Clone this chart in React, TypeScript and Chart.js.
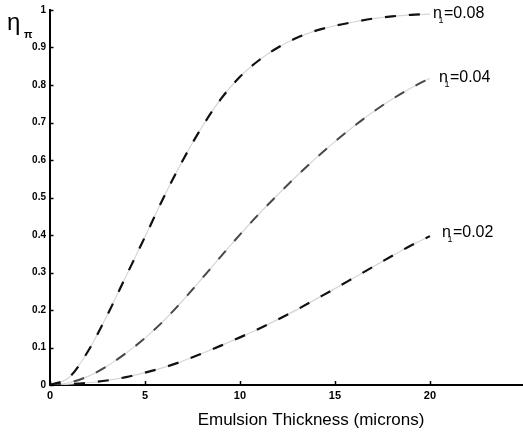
import React, { useEffect, useRef } from "react";
import { Chart, registerables } from "chart.js";

Chart.register(...registerables);

// Emulsion thickness in microns
const thickness = [0, 1, 2, 3, 4, 5, 6, 7, 8, 9, 10, 11, 12, 13, 14, 15, 16, 17, 18, 19, 20];

// Diffraction efficiency for each index modulation n1
const etaN008 = [0, 0.02, 0.09, 0.185, 0.29, 0.395, 0.502, 0.6, 0.688, 0.763, 0.822, 0.866, 0.9, 0.926, 0.945, 0.958, 0.968, 0.977, 0.983, 0.987, 0.989];
const etaN004 = [0, 0.006, 0.023, 0.05, 0.085, 0.125, 0.172, 0.226, 0.284, 0.343, 0.401, 0.456, 0.508, 0.558, 0.605, 0.649, 0.69, 0.728, 0.762, 0.792, 0.818];
const etaN002 = [0, 0.002, 0.006, 0.012, 0.021, 0.033, 0.047, 0.064, 0.084, 0.105, 0.127, 0.15, 0.175, 0.201, 0.229, 0.257, 0.286, 0.315, 0.344, 0.372, 0.397];

const curveValues = ["0.08", "0.04", "0.02"];
const xTicks = [0, 5, 10, 15, 20];
const yTicks = [0, 0.1, 0.2, 0.3, 0.4, 0.5, 0.6, 0.7, 0.8, 0.9, 1];
const xTitle = "Emulsion Thickness (microns)";
const yTitle = "η";
const yTitleSub = "π";

const FONT = "'Liberation Sans', Arial, Helvetica, sans-serif";

const toPoints = (ys: number[]) => thickness.map((x, i) => ({ x, y: ys[i] }));

const series = [
  { values: etaN008, color: "#111111", width: 2.2 },
  { values: etaN004, color: "#484848", width: 2 },
  { values: etaN002, color: "#111111", width: 2.2 },
];

// pixel nudges for each curve's end label, relative to the curve end
const labelNudge = [
  { dx: 3, dy: 4 },
  { dx: 9, dy: 4 },
  { dx: 12, dy: 1 },
];

const annotations = {
  id: "annotations",
  afterDraw(chart: any) {
    const { ctx, chartArea } = chart;
    const xs = chart.scales.x;
    const ys = chart.scales.y;
    ctx.save();

    // inward tick marks
    ctx.strokeStyle = "#000";
    ctx.lineWidth = 1.5;
    xTicks.forEach((v) => {
      const px = Math.round(xs.getPixelForValue(v)) + 0.5;
      ctx.beginPath();
      ctx.moveTo(px, chartArea.bottom);
      ctx.lineTo(px, chartArea.bottom - 4);
      ctx.stroke();
    });
    yTicks.forEach((v) => {
      const py = Math.round(ys.getPixelForValue(v)) + 0.5;
      ctx.beginPath();
      ctx.moveTo(chartArea.left, py);
      ctx.lineTo(chartArea.left + 3.5, py);
      ctx.stroke();
    });

    ctx.fillStyle = "#000";
    ctx.textBaseline = "alphabetic";
    ctx.textAlign = "left";

    // y axis symbol
    ctx.font = `24px ${FONT}`;
    ctx.fillText(yTitle, 7, 30);
    ctx.font = `bold 11px ${FONT}`;
    ctx.fillText(yTitleSub, 24, 37.5);

    // x axis title
    ctx.font = `17px ${FONT}`;
    ctx.textAlign = "center";
    ctx.fillText(xTitle, 311, 425);

    // curve labels at the end of each curve
    ctx.textAlign = "left";
    series.forEach((s, i) => {
      const last = s.values.length - 1;
      const px = xs.getPixelForValue(thickness[last]) + labelNudge[i].dx;
      const py = ys.getPixelForValue(s.values[last]) + labelNudge[i].dy;
      ctx.font = `16px ${FONT}`;
      ctx.fillText("n", px, py);
      ctx.font = `9px ${FONT}`;
      ctx.fillText("1", px + 5.5, py + 5);
      ctx.font = `16px ${FONT}`;
      ctx.fillText("=" + curveValues[i], px + 11, py);
    });

    ctx.restore();
  },
};

export default function App() {
  const canvasRef = useRef<HTMLCanvasElement | null>(null);

  useEffect(() => {
    const canvas = canvasRef.current;
    if (!canvas) return;

    const datasets: any[] = [];
    series.forEach((s) => {
      // dashes drawn on top
      datasets.push({
        data: toPoints(s.values),
        borderColor: s.color,
        borderWidth: s.width,
        borderDash: [11, 13],
        pointRadius: 0,
        cubicInterpolationMode: "monotone",
        fill: false,
        order: 0,
      });
      // faint continuous trace between the dashes
      datasets.push({
        data: toPoints(s.values),
        borderColor: "#d6d6d6",
        borderWidth: 1.2,
        pointRadius: 0,
        cubicInterpolationMode: "monotone",
        fill: false,
        order: 1,
      });
    });

    const chart = new Chart(canvas, {
      type: "line",
      data: { datasets },
      plugins: [annotations],
      options: {
        responsive: false,
        animation: false,
        layout: { padding: { top: 10, right: 0, left: 0, bottom: 0 } },
        plugins: {
          legend: { display: false },
          tooltip: { enabled: false },
        },
        scales: {
          x: {
            type: "linear",
            min: 0,
            max: 24.9,
            afterFit: (s: any) => {
              s.height = 48;
            },
            afterBuildTicks: (s: any) => {
              s.ticks = xTicks.map((value) => ({ value }));
            },
            ticks: {
              color: "#000",
              padding: 4,
              maxRotation: 0,
              font: { family: FONT, size: 11, weight: "bold" },
              callback: (v: any) => String(v),
            },
            grid: { display: false, drawTicks: false },
            border: { display: true, color: "#000", width: 2 },
          },
          y: {
            type: "linear",
            min: 0,
            max: 1,
            afterFit: (s: any) => {
              s.width = 50;
            },
            afterBuildTicks: (s: any) => {
              s.ticks = yTicks.map((value) => ({ value }));
            },
            ticks: {
              color: "#000",
              padding: 4,
              font: { family: FONT, size: 10, weight: "bold" },
              callback: (v: any) => (v === 0 ? "0" : v === 1 ? "1" : Number(v).toFixed(1)),
            },
            grid: { display: false, drawTicks: false },
            border: { display: true, color: "#000", width: 2 },
          },
        },
      },
    });

    return () => chart.destroy();
  }, []);

  return (
    <div style={{ position: "absolute", left: 0, top: 0, width: 523, height: 433, background: "#fff" }}>
      <canvas ref={canvasRef} width={523} height={433} style={{ display: "block" }} />
    </div>
  );
}
